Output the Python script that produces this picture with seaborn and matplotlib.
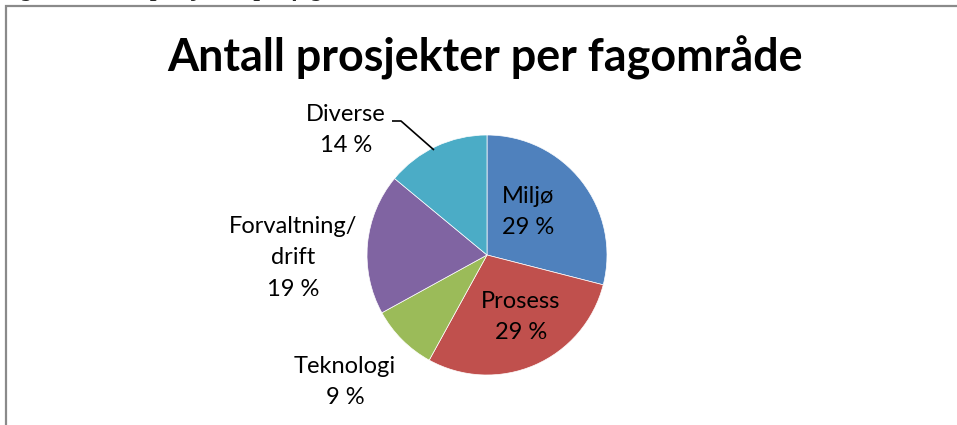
import matplotlib
matplotlib.use("Agg")
import matplotlib.pyplot as plt
from matplotlib.patches import Rectangle
import seaborn as sns

# data
categories = ["Miljø", "Prosess", "Teknologi", "Forvaltning/\ndrift", "Diverse"]
shares = [29, 29, 9, 19, 14]
pct_labels = ["29 %", "29 %", "9 %", "19 %", "14 %"]

TITLE = "Antall prosjekter per fagområde"
CAPTION = "Figur 6, Antall prosjekter per fagområde"

sns.set_theme(style="white")
plt.rcParams["font.family"] = ["Lato", "DejaVu Sans"]

colors = ["#4F81BD", "#C0504D", "#9BBB59", "#8064A2", "#4BACC6"]

W, H = 957, 425
CX, CY, R = 487, 255, 120   # pie centre / radius in pixels

fig = plt.figure(figsize=(W / 100, H / 100), dpi=100)
ax = fig.add_axes([0, 0, 1, 1])

wedges, _ = ax.pie(shares, colors=colors, startangle=90, counterclock=False,
                   radius=1.0, center=(0, 0), frame=True,
                   wedgeprops=dict(linewidth=0.5, edgecolor="white"))
ax.set_xlim(-CX / R, (W - CX) / R)
ax.set_ylim((CY - H) / R, CY / R)
ax.set_aspect("auto")
ax.axis("off")


def px(x, y):
    return (x - CX) / R, (CY - y) / R


# label positions (pixels, centre of the text block)
label_pos = [(528, 212), (521, 317), (345, 382), (293, 258), (346, 130)]
for name, pct, (lx, ly) in zip(categories, pct_labels, label_pos):
    x, y = px(lx, ly)
    ax.text(x, y, f"{name}\n{pct}", ha="center", va="center",
            fontsize=17, linespacing=1.62, color="black")

# leader line for Diverse
lx, ly = zip(*[px(392, 121), px(401, 121), px(434, 150)])
ax.plot(lx, ly, color="black", lw=1.2, solid_capstyle="butt")

tx, ty = px(485, 58)
ax.text(tx, ty, TITLE, ha="center", va="center", fontsize=32.3,
        fontweight="bold", color="black")

# chart border (only left and top edges inside the crop)
fig.patches.append(Rectangle((5.5 / W, -0.05), 1.1, 1 - 5.5 / H + 0.05,
                             transform=fig.transFigure, fill=False,
                             edgecolor="#8a8a8a", linewidth=1.6))

# caption above, mostly cut off
fig.text(0.0, 1 + 4 / H, CAPTION, ha="left", va="baseline", fontsize=17,
         family=["Liberation Serif"], style="italic", fontweight="bold")

fig.savefig("out.png", dpi=100)
